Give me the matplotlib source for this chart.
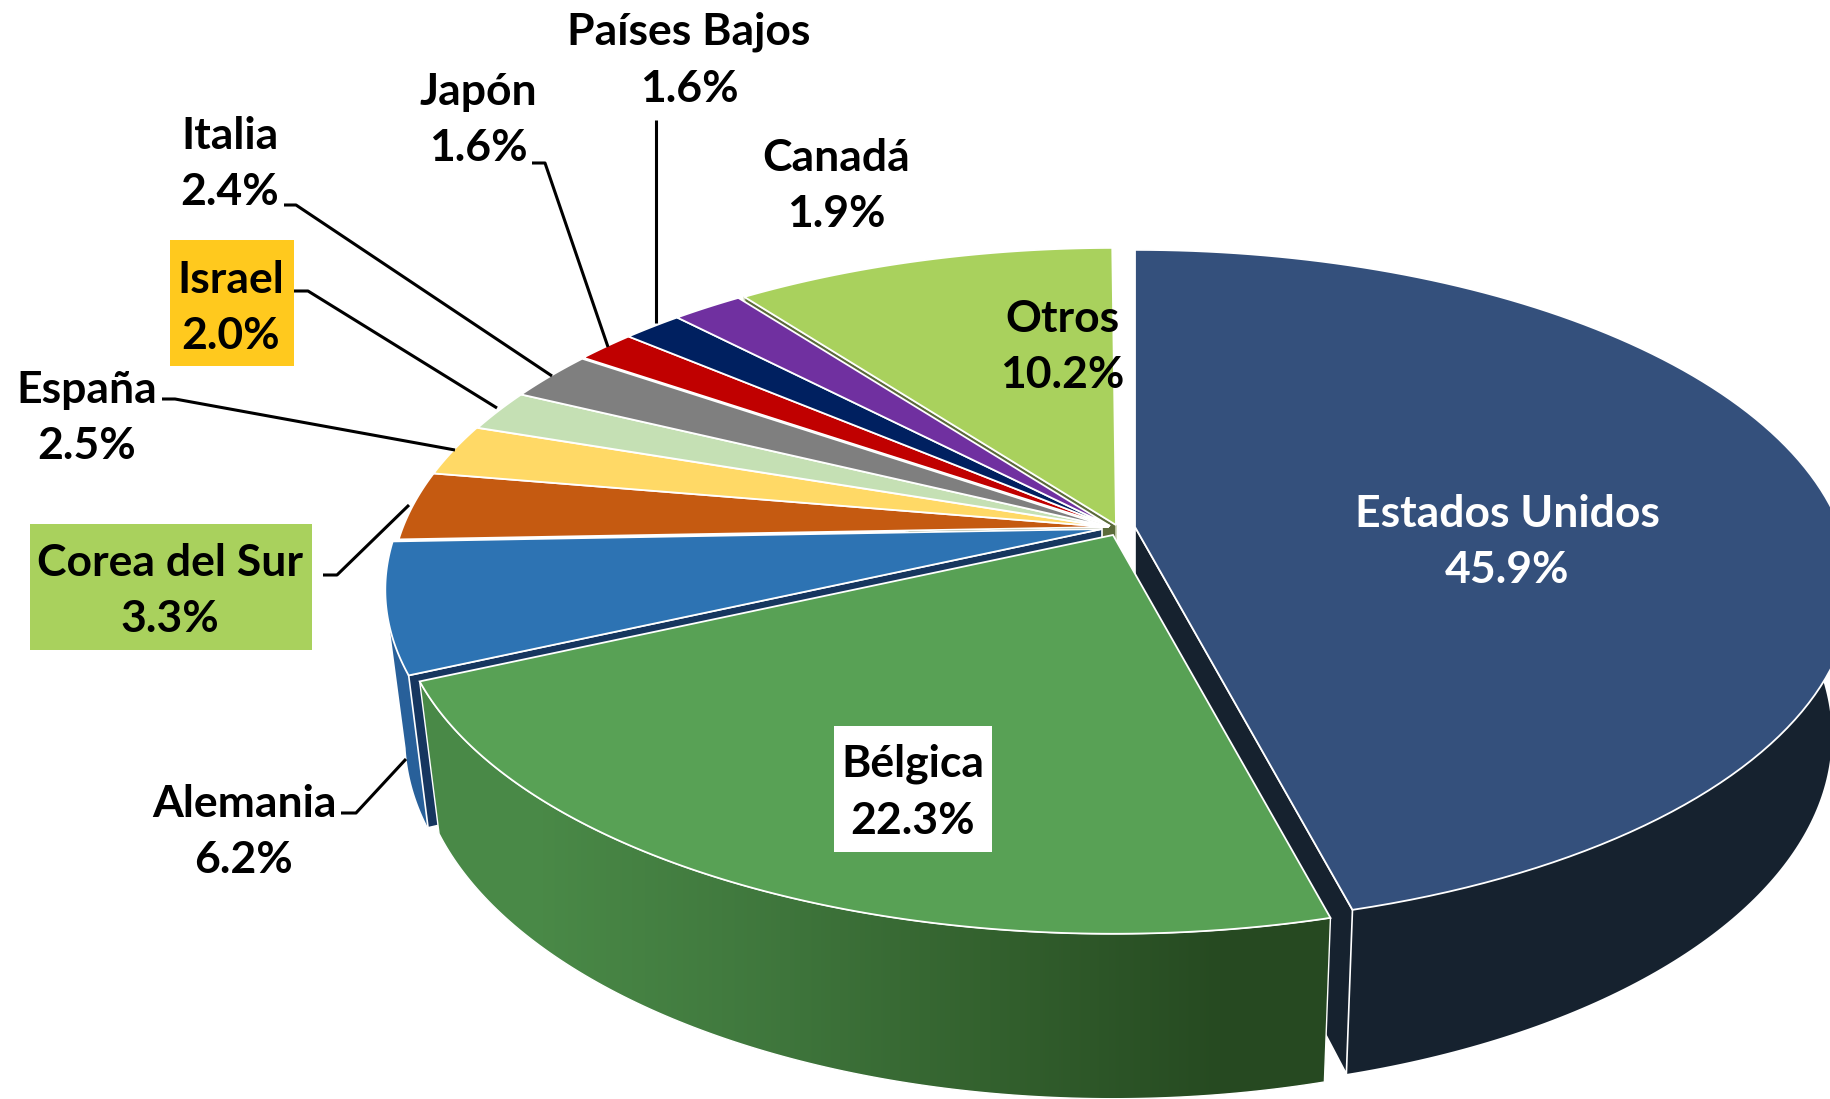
#! /usr/bin/env python3

import numpy as np
import matplotlib
matplotlib.use("Agg")
import matplotlib.pyplot as plt
from matplotlib.patches import Polygon, Rectangle

# data
paises = ["Estados Unidos", "Bélgica", "Alemania", "Corea del Sur", "España", "Israel",
          "Italia", "Japón", "Países Bajos", "Canadá", "Otros"]
valores = [45.9, 22.3, 6.2, 3.3, 2.5, 2.0, 2.4, 1.6, 1.6, 1.9, 10.2]
colores = ["#34507c", "#58a155", "#2d73b3", "#c55a11", "#ffd966", "#c5e0b4",
           "#7f7f7f", "#c00000", "#002060", "#7030a0", "#a9d15d"]

# where each slice tip sits on the canvas (exploded slices differ)
apices = [(1135, 527), (1113, 535), (1102, 529), (1108, 527), (1108, 527), (1109, 527),
          (1109, 527), (1110, 526), (1110, 526), (1110, 526), (1116, 525)]

# label centres and leader lines, canvas pixels
pos_texto = [(1507, 542), (913, 792), (244, 832), (170, 591), (87, 418), (231, 308),
             (230, 164), (478, 120), (689, 60), (836, 186), (1062, 347)]
lideres = {"Alemania": [(341, 813), (356, 813), (406, 759)],
           "Corea del Sur": [(323, 575), (337, 575), (409, 505)],
           "España": [(162, 399), (175, 399), (455, 450)],
           "Israel": [(294, 291), (308, 291), (497, 408)],
           "Italia": [(284, 205), (296, 205), (552, 376)],
           "Japón": [(532, 163), (545, 163), (608, 347)],
           "Países Bajos": [(656, 120), (656, 323)]}
cajas = {"Bélgica": ((834, 726), 158, 126, "white"),
         "Corea del Sur": ((30, 524), 282, 126, "#a9d15d"),
         "Israel": ((170, 240), 124, 126, "#ffc91e")}

# perspective of the pie
K = 0.18
RX = 705.0
RY = 327.0


def top(angles, apex):
    t = np.radians(angles)
    d = 1 + K * np.cos(t)
    return apex[0] + RX * np.sin(t) / d, apex[1] - RY * np.cos(t) / d


def base(angles, apex):
    x, y = top(angles, apex)
    return apex[0] + (x - apex[0]) * 0.972, apex[1] + (y - apex[1]) * 1.05 + 145


def apex_base(apex):
    return apex[0], apex[1] + 145


def wedge(ax, i, edges, z):
    a = np.linspace(edges[i], edges[i + 1], 120)
    x, y = top(a, apices[i])
    pts = np.vstack([[apices[i]], np.column_stack([x, y])])
    ax.add_patch(Polygon(pts, closed=True, fc=colores[i], ec="white", lw=1.3, zorder=z))


def radial_wall(ax, i, angle, color, z, ec="white"):
    x, y = top(np.array([angle]), apices[i])
    bx, by = base(np.array([angle]), apices[i])
    pts = [apices[i], (x[0], y[0]), (bx[0], by[0]), apex_base(apices[i])]
    ax.add_patch(Polygon(pts, closed=True, fc=color, ec=ec, lw=1.2, zorder=z))


def outer_wall(ax, i, a0, a1, a1_base, color, z, ec="white"):
    x, y = top(np.linspace(a0, a1, 120), apices[i])
    bx, by = base(np.linspace(a1_base, a0, 120), apices[i])
    pts = np.column_stack([np.r_[x, bx], np.r_[y, by]])
    p = Polygon(pts, closed=True, fc=color, ec=ec, lw=1.0, zorder=z)
    ax.add_patch(p)
    return p


def main():
    plt.rcParams["font.family"] = ["Lato", "DejaVu Sans"]
    fig = plt.figure(figsize=(18.3, 10.99), dpi=100)
    ax = fig.add_axes([0, 0, 1, 1])

    # the printed shares are rounded, so they stand for percentages of 100
    edges = np.r_[0, np.cumsum(valores)] / 100 * 360

    # walls first, far to near
    radial_wall(ax, 10, edges[10], "#5b6b3a", 1, ec="#c8d0b0")
    for i in range(3, 11):
        wedge(ax, i, edges, 2)

    outer_wall(ax, 2, edges[2], edges[2] + 8, edges[2] + 12.5, "#28609a", 3, ec="none")
    radial_wall(ax, 2, edges[2], "#16365f", 4)
    wedge(ax, 2, edges, 5)

    outer_wall(ax, 0, 85, edges[1], edges[1], "#16222f", 6, ec="none")
    radial_wall(ax, 0, edges[1], "#16222f", 6)
    wedge(ax, 0, edges, 7)

    # Bélgica wall with its left to right gradient
    clip = outer_wall(ax, 1, edges[1], edges[2], edges[2], "#3a6c38", 8)
    grad = np.array([[0.29, 0.54, 0.28], [0.25, 0.47, 0.24], [0.20, 0.38, 0.18], [0.15, 0.29, 0.13]])
    im = ax.imshow(grad[np.newaxis, :, :], extent=(420, 1335, 1099, 680), aspect="auto",
                   interpolation="bilinear", zorder=8.5)
    im.set_clip_path(clip)
    clip.set_facecolor("none")
    clip.set_zorder(8.7)
    wedge(ax, 1, edges, 9)

    for pais, (xy, w, h, color) in cajas.items():
        ax.add_patch(Rectangle(xy, w, h, fc=color, ec="none", zorder=10))

    for pais, pts in lideres.items():
        xs, ys = zip(*pts)
        ax.plot(xs, ys, color="black", lw=2.2, solid_capstyle="butt", zorder=11)

    for pais, valor, (x, y) in zip(paises, valores, pos_texto):
        color = "white" if pais == "Estados Unidos" else "black"
        ax.text(x, y, f"{pais}\n{valor:.1f}%", ha="center", va="center", color=color,
                fontsize=32, fontweight="bold", linespacing=1.5, zorder=12)

    ax.set_xlim(0, 1830)
    ax.set_ylim(1099, 0)
    ax.axis("off")
    fig.savefig("out.png", dpi=100, facecolor="white")


if __name__ == "__main__":
    main()
